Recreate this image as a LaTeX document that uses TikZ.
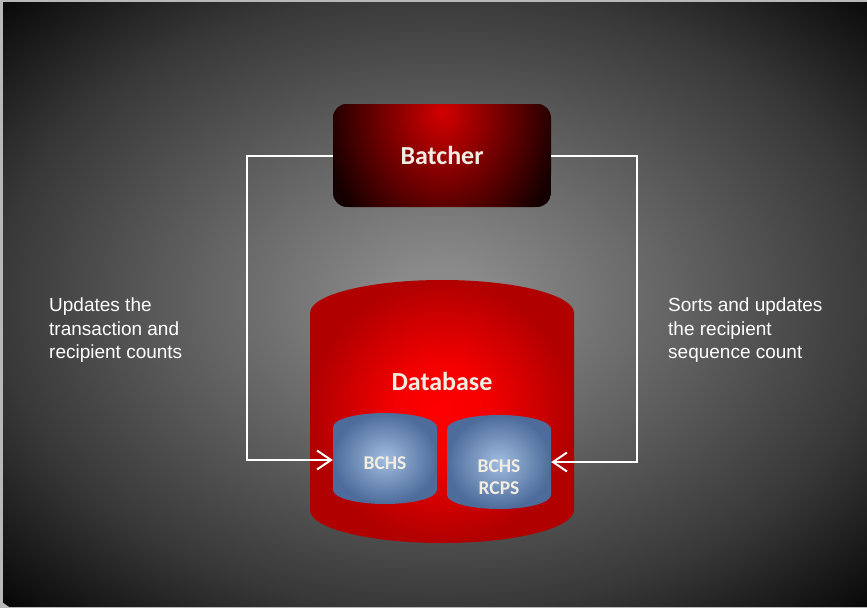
\documentclass[tikz,border=0pt]{standalone}
\usepackage{fontspec}
\setmainfont{Carlito}
\newfontfamily\arialf{Liberation Sans}
\usetikzlibrary{arrows.meta}
\definecolor{bgc}{gray}{0.54}
\definecolor{bgm}{gray}{0.22}
\definecolor{bge}{gray}{0.03}
\definecolor{framec}{gray}{0.72}
\definecolor{txt}{HTML}{F2EDE2}
\definecolor{redc}{HTML}{FF0000}
\definecolor{redm}{HTML}{F40000}
\definecolor{rede}{HTML}{B00000}
\definecolor{batc}{HTML}{D20000}
\definecolor{bate}{HTML}{140000}
\definecolor{bluec}{HTML}{A0BCE0}
\definecolor{bluee}{HTML}{4E6C9B}
\pgfdeclareradialshading{bgshade}{\pgfpoint{0bp}{0bp}}{color(0bp)=(bgc); color(2bp)=(bgc); color(18bp)=(bgm); color(25bp)=(bge); color(50bp)=(bge)}
\pgfdeclareradialshading{batsh}{\pgfpoint{0bp}{0bp}}{color(0bp)=(batc); color(25bp)=(bate); color(50bp)=(bate)}
\pgfdeclareradialshading{dbsh}{\pgfpoint{0bp}{0bp}}{color(0bp)=(redc); color(9bp)=(redm); color(25bp)=(rede); color(50bp)=(rede)}
\pgfdeclareradialshading{bluesh}{\pgfpoint{0bp}{0bp}}{color(0bp)=(bluec); color(25bp)=(bluee); color(50bp)=(bluee)}
\begin{document}
\begin{tikzpicture}[x=1pt,y=-1pt,
  lbl/.style={font=\bfseries\fontsize{26}{30}\selectfont, text=txt, inner sep=0pt},
  sml/.style={font=\bfseries\fontsize{19.5}{21.5}\selectfont, text=txt, inner sep=0pt, align=center},
  side/.style={font=\arialf\fontsize{19}{23.3}\selectfont, text=white, inner sep=0pt, align=left, anchor=north west},
  hold/.style={draw=none, inner sep=0pt, minimum height=1pt},
  conn/.style={draw=white, line width=2pt, -{Straight Barb[length=14pt,width=19pt]}}
]
\useasboundingbox (0,0) rectangle (867,608);
\fill[framec] (0,0) rectangle (867,608);
\begin{scope}
  \clip (3,2) rectangle (867,606);
  \shade[shading=bgshade] (440,300) ellipse (615pt and 430pt);
\end{scope}
% Batcher
\begin{scope}
  \clip[rounded corners=14pt] (333,104) rectangle (551,207);
  \fill[bate] (333,104) rectangle (551,207);
  \shade[shading=batsh] (442,112) ellipse (120pt and 150pt);
\end{scope}
\node[hold, minimum width=218pt, minimum height=103pt] (bat) at (442,155.5) {};
\node[lbl] (battxt) at (442,155) {Batcher};
% Database
\shade[shading=dbsh] (310,313) arc[start angle=180, end angle=0, x radius=132pt, y radius=33pt]
  -- (574,510) arc[start angle=0, end angle=-180, x radius=132pt, y radius=33pt] -- cycle;
\node[hold, minimum width=264pt, minimum height=263pt] (db) at (442,411.5) {};
\node[lbl] (dbtxt) at (442,381) {Database};
% small cylinders
\shade[shading=bluesh] (333,427) arc[start angle=180, end angle=0, x radius=52pt, y radius=14pt]
  -- (437,490) arc[start angle=0, end angle=-180, x radius=52pt, y radius=14pt] -- cycle;
\shade[shading=bluesh] (447,429) arc[start angle=180, end angle=0, x radius=52pt, y radius=14pt]
  -- (551,495) arc[start angle=0, end angle=-180, x radius=52pt, y radius=14pt] -- cycle;
\node[hold, minimum width=104pt] (c1) at (385,460) {};
\node[hold, minimum width=104pt] (c2) at (499,462) {};
\node[sml] (c1txt) at (385,463) {BCHS};
\node[sml] (c2txt) at (499,477) {BCHS\\RCPS};
% connectors
\draw[conn] (bat.west) -- ++(-86pt,0pt) |- (c1.west);
\draw[conn] (bat.east) -- ++(86pt,0pt) |- (c2.east);
% side texts
\node[side] (lt) at (49,298) {Updates the\\transaction and\\recipient counts};
\node[side] (rt) at (668,298) {Sorts and updates\\the recipient\\sequence count};
\end{tikzpicture}
\end{document}
